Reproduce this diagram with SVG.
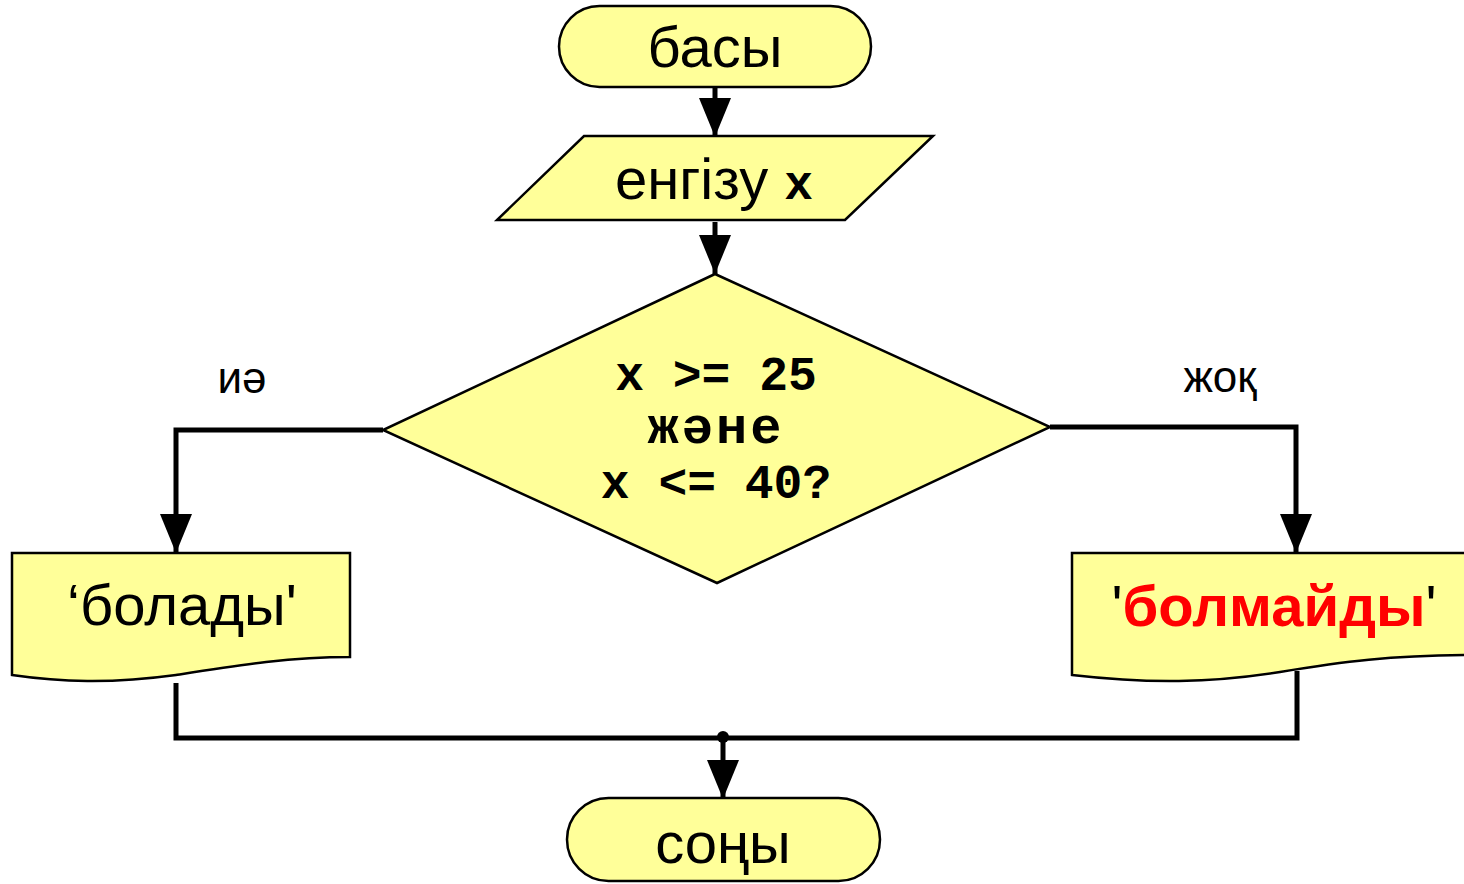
<svg xmlns="http://www.w3.org/2000/svg" width="1464" height="884" viewBox="0 0 1464 884">
<style>
.shape{fill:#FFFF99;stroke:#000;stroke-width:2.5}
.conn{fill:none;stroke:#000;stroke-width:5}
.t{font-family:"Liberation Sans",Arial,sans-serif;font-size:58px;fill:#000;text-anchor:middle}
.m{font-family:"Liberation Mono","Courier New",monospace;font-weight:bold;font-size:48px;fill:#000;text-anchor:middle}
.lbl{font-family:"Liberation Sans",Arial,sans-serif;font-size:44px;fill:#000;text-anchor:middle}
</style>
<defs>
<marker id="arr" markerUnits="userSpaceOnUse" markerWidth="39" markerHeight="32" refX="39" refY="16" orient="auto">
<path d="M0,0 L39,16 L0,32 Z" fill="#000"/>
</marker>
</defs>
<rect width="1464" height="884" fill="#fff"/>
<g id="connectors">
<line class="conn" x1="715" y1="87" x2="715" y2="137" marker-end="url(#arr)"/>
<line class="conn" x1="715" y1="222" x2="715" y2="274" marker-end="url(#arr)"/>
<polyline class="conn" points="383,430 176,430 176,553" marker-end="url(#arr)"/>
<polyline class="conn" points="1050,427 1296,427 1296,553" marker-end="url(#arr)"/>
<polyline class="conn" points="176,683 176,738 1297,738 1297,671"/>
<line class="conn" x1="723" y1="738" x2="723" y2="799" marker-end="url(#arr)"/>
<circle cx="723" cy="737" r="6" fill="#000"/>
<text class="lbl" x="242" y="393">иә</text>
<text class="lbl" x="1220" y="392">жоқ</text>
</g>
<g id="start">
<rect class="shape" x="559" y="6" width="312" height="81" rx="40.5"/>
<text class="t" x="715" y="67">басы</text>
</g>
<g id="input">
<polygon class="shape" points="584,136 933,136 845,220 497,220"/>
<text class="t" x="714" y="199">енгізу <tspan style="font-family:'Liberation Mono','Courier New',monospace;font-weight:bold;font-size:48px">x</tspan></text>
</g>
<g id="decision">
<polygon class="shape" points="715,274 1050,427 717,583 383,430"/>
<text class="m" x="716" y="390">x &gt;= 25</text>
<text class="m" x="716" y="443" style="font-size:52px;letter-spacing:3px">және</text>
<text class="m" x="716" y="498">x &lt;= 40?</text>
</g>
<g id="yes-output">
<path class="shape" d="M12,553 H350 V657 C290,657 240,665 176,675 C110,684 60,682 12,675 Z"/>
<text class="t" x="182" y="625">‘болады'</text>
</g>
<g id="no-output">
<path class="shape" d="M1072,553 H1480 V655 C1390,655 1340,662 1280,672 C1210,683 1150,684 1072,675 Z"/>
<text class="t" x="1274" y="626">'<tspan style="fill:#FF0000;font-weight:bold">болмайды</tspan>'</text>
</g>
<g id="end">
<rect class="shape" x="567" y="798" width="313" height="83" rx="41.5"/>
<text class="t" x="723" y="863">соңы</text>
</g>
</svg>
